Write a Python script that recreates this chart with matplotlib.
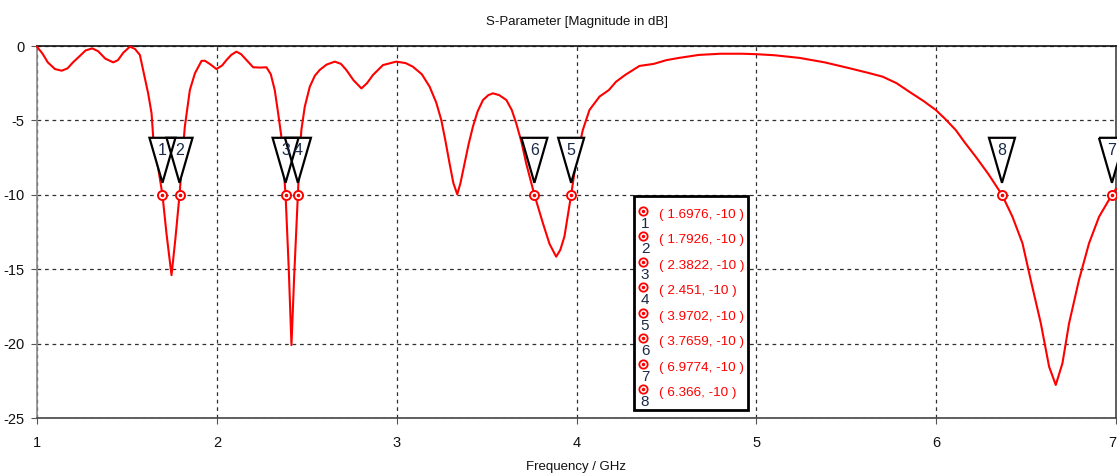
import matplotlib
matplotlib.use("Agg")
import matplotlib.pyplot as plt
from matplotlib.patches import Polygon, Rectangle
from matplotlib.transforms import Affine2D, ScaledTranslation

plt.rcParams['font.family'] = ['Liberation Sans', 'DejaVu Sans']

# S11 magnitude (GHz, dB)
freq = [
    1.000, 1.03, 1.06, 1.10, 1.137, 1.17, 1.20, 1.24, 1.27, 1.307, 1.34, 1.38,
    1.424, 1.45, 1.48, 1.517, 1.545, 1.572, 1.594, 1.618, 1.637, 1.646, 1.67,
    1.6976, 1.72, 1.748, 1.77, 1.7926, 1.81, 1.822, 1.85, 1.878, 1.915, 1.933,
    1.96, 1.998, 2.03, 2.054, 2.08, 2.109, 2.135, 2.165, 2.202, 2.24, 2.276,
    2.30, 2.322, 2.341, 2.359, 2.3822, 2.40, 2.415, 2.43, 2.451, 2.46, 2.47,
    2.489, 2.517, 2.545, 2.572, 2.61, 2.656, 2.69, 2.72, 2.76, 2.804, 2.835,
    2.868, 2.924, 2.998, 3.05, 3.09, 3.14, 3.183, 3.22, 3.248, 3.27, 3.294,
    3.315, 3.337, 3.355, 3.378, 3.40, 3.424, 3.45, 3.48, 3.51, 3.535, 3.57,
    3.61, 3.64, 3.665, 3.695, 3.72, 3.7659, 3.813, 3.85, 3.887, 3.91, 3.933,
    3.9702, 4.00, 4.035, 4.072, 4.128, 4.18, 4.22, 4.27, 4.35, 4.43, 4.50,
    4.57, 4.68, 4.80, 4.92, 5.00, 5.10, 5.24, 5.38, 5.52, 5.62, 5.702, 5.78,
    5.85, 5.93, 5.998, 6.05, 6.109, 6.16, 6.22, 6.29, 6.366, 6.424, 6.48,
    6.526, 6.582, 6.628, 6.665, 6.702, 6.739, 6.794, 6.85, 6.906, 6.9774, 7.00,
]
s11_db = [
    -0.05, -0.5, -1.1, -1.55, -1.66, -1.5, -1.1, -0.65, -0.3, -0.16, -0.35, -0.85,
    -1.10, -0.95, -0.45, -0.04, -0.2, -0.6, -1.84, -3.18, -4.52, -6.1, -7.9,
    -10.0, -12.6, -15.4, -12.9, -10.0, -7.2, -5.42, -2.96, -1.84, -1.0, -0.99,
    -1.2, -1.55, -1.3, -0.94, -0.6, -0.38, -0.55, -0.94, -1.43, -1.45, -1.43,
    -1.9, -2.96, -4.52, -6.1, -10.0, -15.0, -20.1, -15.5, -10.0, -7.5, -5.65,
    -4.08, -2.73, -2.0, -1.61, -1.25, -1.05, -1.2, -1.61, -2.3, -2.85, -2.5,
    -1.95, -1.28, -1.05, -1.15, -1.39, -1.9, -2.73, -3.8, -4.97, -6.3, -7.88,
    -9.2, -9.97, -9.2, -7.88, -6.6, -5.42, -4.4, -3.63, -3.3, -3.18, -3.3,
    -3.63, -4.3, -5.2, -6.5, -7.88, -10.0, -11.9, -13.3, -14.16, -13.7, -12.8,
    -10.0, -7.6, -5.65, -4.3, -3.4, -2.96, -2.4, -1.95, -1.34, -1.2, -0.95,
    -0.8, -0.6, -0.52, -0.52, -0.55, -0.62, -0.8, -1.1, -1.5, -1.8, -2.06, -2.5,
    -3.07, -3.7, -4.3, -4.9, -5.65, -6.5, -7.44, -8.6, -10.0, -11.47, -13.26,
    -15.73, -18.64, -21.55, -22.78, -21.33, -18.64, -15.73, -13.26, -11.47, -10.0, -9.6,
]

# Markers at the -10 dB crossings
marker_ids = ['1', '2', '3', '4', '5', '6', '7', '8']
marker_freq = [1.6976, 1.7926, 2.3822, 2.451, 3.9702, 3.7659, 6.9774, 6.366]
marker_db = [-10, -10, -10, -10, -10, -10, -10, -10]
marker_text = ['1.6976', '1.7926', '2.3822', '2.451', '3.9702', '3.7659', '6.9774', '6.366']

x_ticks = [1, 2, 3, 4, 5, 6, 7]
y_ticks = [0, -5, -10, -15, -20, -25]

W, H = 1117, 474
fig = plt.figure(figsize=(W / 100, H / 100), dpi=100)
fig.patch.set_facecolor('white')
ax = fig.add_axes([37 / W, 1 - 418 / H, (1116 - 37) / W, (418 - 46) / H])

ax.set_xlim(1, 7)
ax.set_ylim(-25, 0)
ax.set_xticks(x_ticks)
ax.set_xticklabels([str(v) for v in x_ticks])
ax.set_yticks(y_ticks)
ax.set_yticklabels([str(v) for v in y_ticks])
ax.tick_params(axis='both', direction='out', length=4, width=0.8, color='#555555',
               labelsize=10.5, labelcolor='#111111')
ax.tick_params(axis='x', pad=9)
ax.tick_params(axis='y', pad=5)
# keep the last frequency label inside the figure
ax.get_xticklabels()[-1].set_horizontalalignment('right')
ax.get_xticklabels()[-1].set_x(7.0)

ax.grid(True, color='#303030', linestyle=(0, (3, 3)), linewidth=0.9)
ax.spines['top'].set_color('#111111')
ax.spines['left'].set_color('#8a8a8a')
ax.spines['bottom'].set_color('#444444')
ax.spines['right'].set_color('#444444')
for sp in ax.spines.values():
    sp.set_linewidth(1.2)

ax.plot(freq, s11_db, color='#ff0000', linewidth=1.5, zorder=3, clip_on=False)

ax.set_title('S-Parameter [Magnitude in dB]', fontsize=9.5, pad=15, color='#111111')
ax.set_xlabel('Frequency / GHz', fontsize=9.5, labelpad=8, color='#111111')

# Triangular marker flags, geometry in pixels relative to the marker point
px = Affine2D().scale(1 / 100) + fig.dpi_scale_trans
tri = [(-13, 57), (13, 57), (0, 12)]
for mid, f, d in zip(marker_ids, marker_freq, marker_db):
    tr = px + ScaledTranslation(f, d, ax.transData)
    ax.add_patch(Polygon(tri, closed=True, transform=tr, facecolor='white',
                         edgecolor='none', zorder=4, clip_on=False))
for mid, f, d in zip(marker_ids, marker_freq, marker_db):
    tr = px + ScaledTranslation(f, d, ax.transData)
    ax.add_patch(Polygon(tri, closed=True, transform=tr, facecolor='none',
                         edgecolor='black', linewidth=1.6, zorder=5, clip_on=False))
    ax.text(0, 44, mid, transform=tr, ha='center', va='center', fontsize=11.5,
            color='#1b2a48', zorder=6, clip_on=False)

ax.plot(marker_freq, marker_db, linestyle='none', marker='o', markersize=6.5,
        markerfacecolor='white', markeredgecolor='#ff0000', markeredgewidth=1.4,
        zorder=7, clip_on=False)
ax.plot(marker_freq, marker_db, linestyle='none', marker='o', markersize=1.6,
        markerfacecolor='#ff0000', markeredgecolor='#ff0000', zorder=8, clip_on=False)

# Marker table
def fx(p):
    return p / W

def fy(p):
    return 1 - p / H

fig.patches.append(Rectangle((fx(634), fy(410)), fx(748) - fx(634), fy(196) - fy(410),
                             transform=fig.transFigure, facecolor='white',
                             edgecolor='black', linewidth=2.0, zorder=10))
row0, step = 210.7, 25.5
for k, (mid, txt) in enumerate(zip(marker_ids, marker_text)):
    yc = row0 + k * step
    fig.lines.append(plt.Line2D([fx(643)], [fy(yc)], transform=fig.transFigure,
                                linestyle='none', marker='o', markersize=6.0,
                                markerfacecolor='white', markeredgecolor='#ff0000',
                                markeredgewidth=1.3, zorder=11))
    fig.lines.append(plt.Line2D([fx(643)], [fy(yc)], transform=fig.transFigure,
                                linestyle='none', marker='o', markersize=1.5,
                                markerfacecolor='#ff0000', markeredgecolor='#ff0000',
                                zorder=12))
    fig.text(fx(645), fy(yc + 13), mid, ha='center', va='center', fontsize=11,
             color='#1b2a48', zorder=12)
    fig.text(fx(659), fy(yc + 4), '( %s, -10 )' % txt, ha='left', va='center',
             fontsize=9.7, color='#ff0000', zorder=12)

fig.savefig('out.png', dpi=100, facecolor='white')
